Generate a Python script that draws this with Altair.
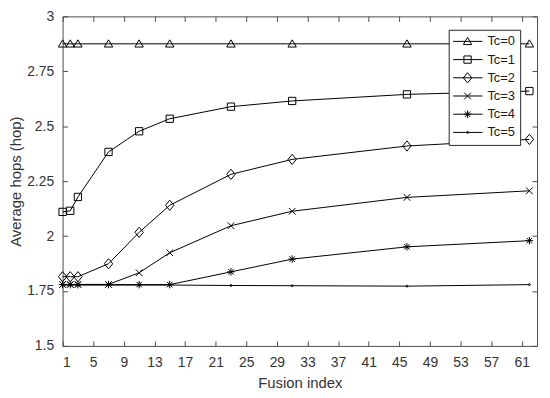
import altair as alt
import pandas as pd

# ---- data ----
fusion_index = [1, 2, 3, 7, 11, 15, 23, 31, 46, 62]
tc0 = [2.875, 2.875, 2.875, 2.875, 2.875, 2.875, 2.875, 2.875, 2.875, 2.875]
tc1 = [2.110, 2.115, 2.178, 2.383, 2.477, 2.534, 2.589, 2.615, 2.645, 2.660]
tc2 = [1.815, 1.815, 1.815, 1.874, 2.017, 2.140, 2.281, 2.349, 2.410, 2.440]
tc3 = [1.780, 1.780, 1.780, 1.780, 1.833, 1.924, 2.047, 2.113, 2.176, 2.206]
tc4 = [1.779, 1.779, 1.779, 1.779, 1.779, 1.779, 1.837, 1.895, 1.951, 1.979]
tc5 = [1.777, 1.777, 1.777, 1.777, 1.777, 1.777, 1.775, 1.774, 1.772, 1.779]
labels = ["Tc=0", "Tc=1", "Tc=2", "Tc=3", "Tc=4", "Tc=5"]
series_values = [tc0, tc1, tc2, tc3, tc4, tc5]
x_ticks = [1, 5, 9, 13, 17, 21, 25, 29, 33, 37, 41, 45, 49, 53, 57, 61]
y_ticks = [1.5, 1.75, 2, 2.25, 2.5, 2.75, 3]

# ---- styles (marker outlines in unit coordinates, one symbol size) ----
shape_paths = [
    "M0,-0.9L0.95,0.72L-0.95,0.72Z",
    "M-0.82,-0.82L0.82,-0.82L0.82,0.82L-0.82,0.82Z",
    "M0,-1.15L0.95,0L0,1.15L-0.95,0Z",
    "M-0.75,-0.75L0.75,0.75M-0.75,0.75L0.75,-0.75",
    "M0,-0.85L0,0.85M-0.85,0L0.85,0M-0.62,-0.62L0.62,0.62M-0.62,0.62L0.62,-0.62",
    "M-0.22,0A0.22,0.22 0 1,0 0.22,0A0.22,0.22 0 1,0 -0.22,0Z",
]
MARKER_SIZE = 80
FONT = "Liberation Sans"
W, H = 478, 332

rows = []
for lab, vals in zip(labels, series_values):
    for xv, yv in zip(fusion_index, vals):
        rows.append({"x": xv, "y": yv, "series": lab})
df = pd.DataFrame(rows)

x_scale = alt.Scale(domain=[1, 63], nice=False, zero=False)
y_scale = alt.Scale(domain=[1.5, 3], nice=False, zero=False)

LX, LY = 389, 13.5
common_leg = dict(orient="none", legendX=LX, legendY=LY, title=None, padding=4.5,
                  clipHeight=14.4, rowPadding=3.34, labelFont=FONT, labelFontSize=13,
                  labelOffset=4.5, symbolStrokeWidth=1)

line_legend = alt.Legend(strokeColor="#262626", fillColor="white", symbolType="stroke",
                         symbolSize=900, symbolOffset=-1, labelColor="#1a1a1a",
                         labelExpr="datum.label + '  '", **common_leg)
point_legend = alt.Legend(symbolOffset=8, labelExpr="''", symbolStrokeColor="black",
                          symbolFillColor="transparent", symbolSize=MARKER_SIZE,
                          **common_leg)

lines = alt.Chart(df).transform_calculate(series2="datum.series").mark_line(
    strokeWidth=1
).encode(
    x=alt.X("x:Q", scale=x_scale,
            axis=alt.Axis(orient="bottom", values=x_ticks, ticks=False, tickSize=0,
                          domain=False, grid=False, labelPadding=9.5,
                          title="Fusion index", titlePadding=6)),
    y=alt.Y("y:Q", scale=y_scale,
            axis=alt.Axis(orient="left", values=y_ticks, format=".3~g", ticks=False,
                          tickSize=0, domain=False, grid=False, labelPadding=9,
                          title="Average hops (hop)", titlePadding=3)),
    color=alt.Color("series2:N", scale=alt.Scale(range=["black"]),
                    legend=line_legend),
)

points = alt.Chart(df).mark_point(filled=False, strokeWidth=1, color="black", opacity=1,
                                  size=MARKER_SIZE).encode(
    x=alt.X("x:Q", scale=x_scale,
            axis=alt.Axis(orient="top", offset=-H, values=x_ticks, labels=False,
                          domain=False, grid=False, tickSize=5, title=None)),
    y=alt.Y("y:Q", scale=y_scale,
            axis=alt.Axis(orient="right", offset=-W, values=y_ticks, labels=False,
                          domain=False, grid=False, tickSize=5, title=None)),
    shape=alt.Shape("series:N", scale=alt.Scale(domain=labels, range=shape_paths),
                    legend=point_legend),
)

ghost = alt.Chart(df).mark_line(strokeOpacity=0).encode(
    x=alt.X("x:Q", scale=x_scale,
            axis=alt.Axis(orient="bottom", offset=-H, values=x_ticks, labels=False,
                          domain=False, grid=False, tickSize=5, title=None)),
    y=alt.Y("y:Q", scale=y_scale,
            axis=alt.Axis(orient="left", offset=-W, values=y_ticks, labels=False,
                          domain=False, grid=False, tickSize=5, title=None)),
    detail="series:N",
)

chart = alt.layer(lines, points, ghost).resolve_axis(
    x="independent", y="independent"
).properties(
    width=W, height=H, autosize="none",
    padding={"left": 55, "top": 7, "right": 5, "bottom": 45},
).configure_view(
    stroke="#4d4d4d", strokeWidth=1
).configure_axis(
    labelFont=FONT, labelFontSize=14, labelColor="#333333",
    titleFont=FONT, titleFontSize=15, titleFontWeight="normal", titleColor="#333333",
    tickColor="#4d4d4d", tickWidth=1,
)

chart.save("out.html", embed_options={"renderer": "svg", "actions": False})
